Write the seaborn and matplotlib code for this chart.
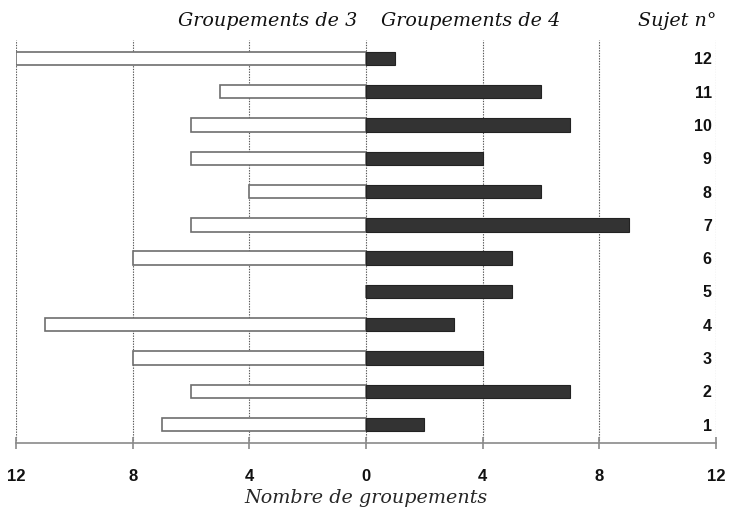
import matplotlib
matplotlib.use("Agg")
import matplotlib.pyplot as plt
import seaborn as sns
import pandas as pd

# Number of groupings per subject
subjects = [12, 11, 10, 9, 8, 7, 6, 5, 4, 3, 2, 1]
groupements_3 = [12, 5, 6, 6, 4, 6, 8, 0, 11, 8, 6, 7]
groupements_4 = [1, 6, 7, 4, 6, 9, 5, 5, 3, 4, 7, 2]
tick_values = [-12, -8, -4, 0, 4, 8, 12]
tick_labels = ["12", "8", "4", "0", "4", "8", "12"]

sns.set_theme(style="white")
plt.rcParams["font.family"] = ["Liberation Sans", "DejaVu Sans"]

left_df = pd.DataFrame({"sujet": [str(s) for s in subjects],
                        "n": [-v for v in groupements_3]})
right_df = pd.DataFrame({"sujet": [str(s) for s in subjects],
                         "n": groupements_4})
order = [str(s) for s in subjects]

fig = plt.figure(figsize=(7.29, 5.13), dpi=100)
ax = fig.add_axes([16 / 729, 1 - 443 / 513, 700 / 729, 403 / 513])

sns.barplot(data=left_df, x="n", y="sujet", order=order, orient="h",
            width=0.4, color="white", edgecolor="#6e6e6e", linewidth=1.2,
            saturation=1, ax=ax)
sns.barplot(data=right_df, x="n", y="sujet", order=order, orient="h",
            width=0.4, color="#333333", edgecolor="#222222", linewidth=0.8,
            saturation=1, ax=ax)

ax.set_xlim(-12, 12)
ax.set_ylim(11.55, -0.55)
ax.set_xticks(tick_values)
ax.set_xticklabels(tick_labels, fontweight="bold", fontsize=12)
ax.grid(axis="x", linestyle=(0, (1.2, 1.2)), color="#555555", linewidth=0.8)
ax.grid(axis="y", visible=False)
ax.set_axisbelow(True)

for side in ["top", "left", "right"]:
    ax.spines[side].set_visible(False)
ax.spines["bottom"].set_color("#8a8a8a")
ax.spines["bottom"].set_linewidth(1.2)
ax.tick_params(axis="x", direction="inout", length=9, width=1.2,
               color="#8a8a8a", pad=14, bottom=True, labelcolor="#111111")

# Subject numbers sit inside the axes, along the right edge
ax.tick_params(axis="y", left=False, right=False, labelleft=False,
               labelright=True, length=0, pad=-3)
for lab in ax.get_yticklabels():
    lab.set_horizontalalignment("right")
    lab.set_fontweight("bold")
    lab.set_fontsize(11.5)
    lab.set_color("#111111")

serif = ["DejaVu Serif", "Liberation Serif"]
ax.set_ylabel("")
ax.set_xlabel("Nombre de groupements", fontsize=13.8, fontstyle="italic",
              family=serif, labelpad=4)

head = dict(fontsize=13.8, fontstyle="italic", family=serif,
            transform=ax.transAxes, va="bottom", color="#111111")
ax.text(0.487, 1.025, "Groupements de 3", ha="right", **head)
ax.text(0.522, 1.025, "Groupements de 4", ha="left", **head)
ax.text(1.0, 1.025, "Sujet n°", ha="right", **head)

fig.savefig("out.png", dpi=100, facecolor="white")
